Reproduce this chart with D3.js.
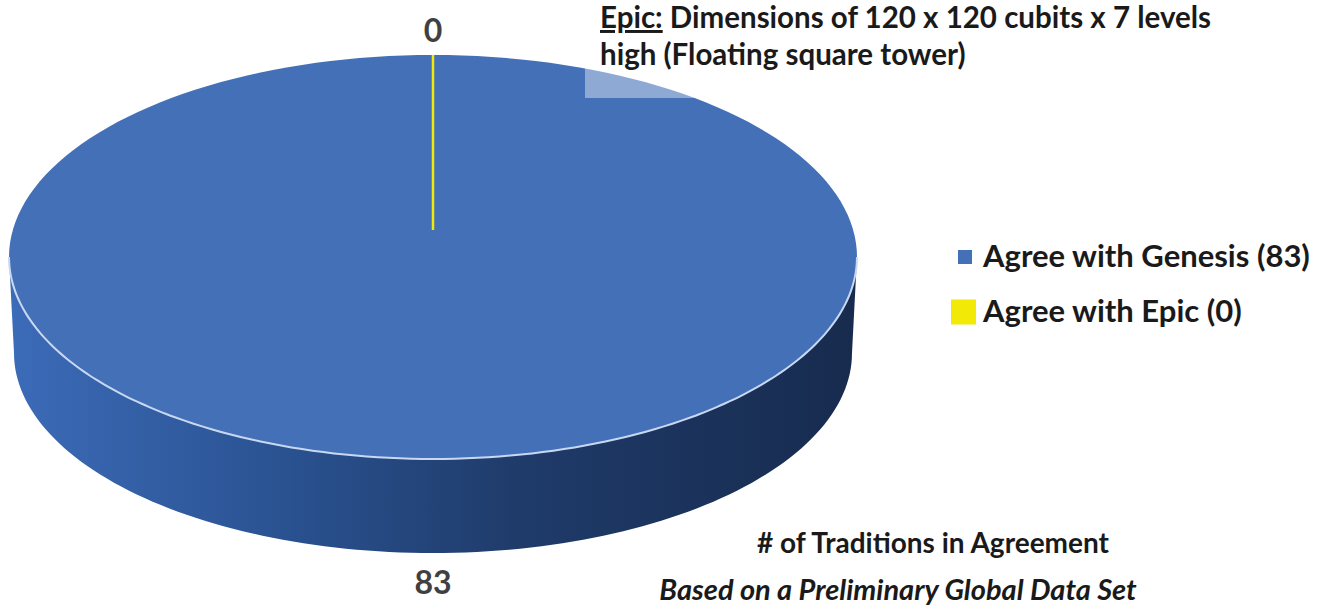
<!DOCTYPE html>
<html>
<head>
<meta charset="utf-8">
<script src="https://cdn.jsdelivr.net/npm/d3@7"></script>
<style>
  body { margin: 0; background: #fff; }
  svg { display: block; font-family: Lato, "Open Sans", sans-serif; }
</style>
</head>
<body>
<svg></svg>
<script>
// chart data
var categories = ["Agree with Genesis", "Agree with Epic"];
var values = [83, 0];
var sliceColors = ["#4470B8", "#F2EA06"];
var annotationLines = ["Dimensions of 120 x 120 cubits x 7 levels", "high (Floating square tower)"];
var annotationLead = "Epic:";
var footTitle = "# of Traditions in Agreement";
var footNote = "Based on a Preliminary Global Data Set";

var width = 1333, height = 605;
var svg = d3.select("svg").attr("width", width).attr("height", height);

// 3d pie layout
var cx = 433, cy = 257;
var rx = 424, ry = 202;
var thick = 96;
var rxBottom = 419;
var hubY = cy - 27;

var pie = d3.pie().sort(null).value(d => d.value);
var arcs = pie(categories.map((c, i) => ({name: c, value: values[i], color: sliceColors[i]})));

var px = (a, r) => cx + r * Math.sin(a);
var py = (a, r) => cy - r * Math.cos(a);

var defs = svg.append("defs");
var grad = defs.append("linearGradient").attr("id", "side")
  .attr("x1", "0%").attr("x2", "100%").attr("y1", "0%").attr("y2", "0%");
grad.append("stop").attr("offset", "0%").attr("stop-color", "#3C6BB8");
grad.append("stop").attr("offset", "30%").attr("stop-color", "#2B5494");
grad.append("stop").attr("offset", "60%").attr("stop-color", "#1F3B6A");
grad.append("stop").attr("offset", "100%").attr("stop-color", "#172B4E");

// side wall (front half)
var side = d3.path();
var steps = 120;
for (var i = 0; i <= steps; i++) {
  var a = 1.5 * Math.PI - Math.PI * i / steps;
  if (i === 0) side.moveTo(px(a, rx), py(a, ry));
  else side.lineTo(px(a, rx), py(a, ry));
}
for (var j = 0; j <= steps; j++) {
  var b = 0.5 * Math.PI + Math.PI * j / steps;
  side.lineTo(cx + rxBottom * Math.sin(b), cy + thick - (ry - 2) * Math.cos(b));
}
side.closePath();
svg.append("path").attr("d", side.toString()).attr("fill", "url(#side)");

// top face, one path per slice
arcs.forEach(function(d) {
  if (d.endAngle - d.startAngle <= 0) return;
  var p = d3.path();
  var full = d.endAngle - d.startAngle >= 2 * Math.PI - 1e-6;
  var n = 180;
  if (!full) p.moveTo(cx, hubY);
  for (var k = 0; k <= n; k++) {
    var a = d.startAngle + (d.endAngle - d.startAngle) * k / n;
    if (full && k === 0) p.moveTo(px(a, rx), py(a, ry));
    else p.lineTo(px(a, rx), py(a, ry));
  }
  p.closePath();
  svg.append("path").attr("d", p.toString()).attr("fill", d.data.color);
});

// light rim on the front edge
var rim = d3.line().curve(d3.curveBasis);
var rimPts = d3.range(0, 121).map(k => {
  var a = 1.5 * Math.PI - Math.PI * k / 120;
  return [px(a, rx), py(a, ry)];
});
svg.append("path").attr("d", rim(rimPts))
  .attr("fill", "none").attr("stroke", "#C9D8F2").attr("stroke-width", 2);

// zero slices drawn as a line from hub to edge
arcs.forEach(function(d) {
  if (d.endAngle - d.startAngle > 0) return;
  svg.append("line")
    .attr("x1", cx).attr("y1", hubY)
    .attr("x2", px(d.startAngle, rx)).attr("y2", py(d.startAngle, ry))
    .attr("stroke", d.data.color).attr("stroke-width", 2.5);
});

// data labels
var off = 26;
arcs.forEach(function(d) {
  var mid = (d.startAngle + d.endAngle) / 2;
  var lx = px(mid, rx + off);
  var ly = py(mid, ry + off) + (Math.cos(mid) < 0 ? thick : 0);
  svg.append("text")
    .attr("x", lx).attr("y", ly)
    .attr("text-anchor", "middle").attr("dominant-baseline", "central")
    .attr("font-size", 32).attr("font-weight", "bold").attr("fill", "#404040")
    .text(d3.format("d")(d.data.value));
});

// annotation box
svg.append("rect")
  .attr("x", 585).attr("y", 0).attr("width", 650).attr("height", 98)
  .attr("fill", "#fff").attr("opacity", 0.4);
var ann = svg.append("text").attr("font-size", 29.5).attr("font-weight", "bold").attr("fill", "#1a1a1a");
ann.append("tspan").attr("x", 600).attr("y", 28)
  .attr("text-decoration", "underline").text(annotationLead);
ann.append("tspan").text(" " + annotationLines[0]);
ann.append("tspan").attr("x", 600).attr("y", 65).text(annotationLines[1]);

// legend
var legend = svg.append("g").attr("transform", "translate(983,0)");
var legendY = d3.scalePoint().domain(categories).range([267, 322]);
var swatch = [14, 25];
categories.forEach(function(c, i) {
  var s = swatch[i];
  legend.append("rect")
    .attr("x", -11 - s + (i ? 4 : 0)).attr("y", legendY(c) - 10 - (i ? 0 : 0) - s / 2)
    .attr("width", s).attr("height", s).attr("fill", sliceColors[i]);
  legend.append("text")
    .attr("x", 0).attr("y", legendY(c))
    .attr("font-size", 31).attr("font-weight", "bold").attr("fill", "#1a1a1a")
    .text(c + " (" + values[i] + ")");
});

// footer
svg.append("text").attr("x", 933).attr("y", 553).attr("text-anchor", "middle")
  .attr("font-size", 28).attr("font-weight", "bold").attr("fill", "#1a1a1a")
  .text(footTitle);
svg.append("text").attr("x", 898).attr("y", 600).attr("text-anchor", "middle")
  .attr("font-size", 29).attr("font-weight", "bold").attr("font-style", "italic").attr("fill", "#1a1a1a")
  .text(footNote);
</script>
</body>
</html>
